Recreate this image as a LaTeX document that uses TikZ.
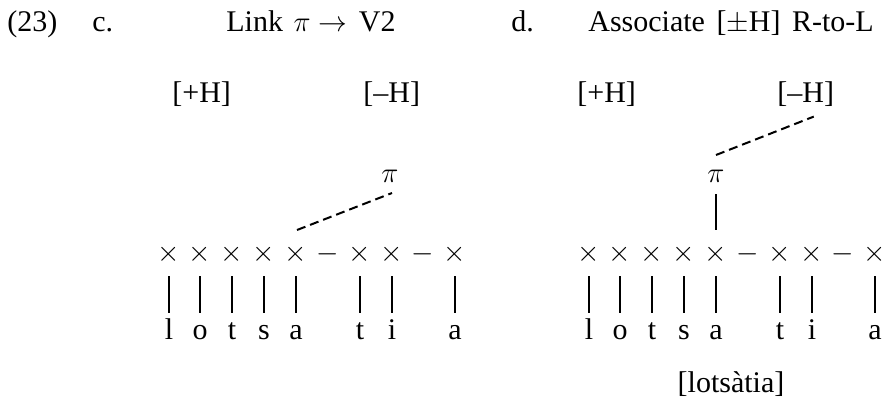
\documentclass[tikz,border=0pt]{standalone}
\usepackage{fontspec}
\setmainfont{Liberation Serif}
\usetikzlibrary{calc}
\begin{document}
\begin{tikzpicture}[x=0.5pt,y=-0.5pt,
  txt/.style={inner sep=0pt, font=\fontsize{15}{18}\selectfont},
  ttl/.style={txt, anchor=base west},
  xmark/.style={txt, anchor=center},
  seg/.style={txt, anchor=base, text height=8pt, text depth=0pt},
  bar/.style={line width=0.75pt, shorten <=11pt, shorten >=5pt},
  dashline/.style={line width=1pt, dash pattern=on 4.5pt off 2.5pt}
]
\useasboundingbox (0,0) rectangle (882,402);

% titles
\node[ttl] (num) at (7,31) {(23)};
\node[ttl] (clab) at (92,31) {c.};
\node[ttl] (ctitle) at (226,31) {Link\hspace{1.5pt} $\pi\to$\hspace{2pt} V2};
\node[ttl] (dlab) at (511,31) {d.};
\node[ttl] (dtitle) at (588,31) {Associate\hspace{2pt} [$\pm$H]\hspace{2pt} R-to-L};

% tone features
\node[ttl] (cpH) at (172,102) {[+H]};
\node[ttl] (cmH) at (363,102) {[–H]};
\node[ttl] (dpH) at (577,102) {[+H]};
\node[ttl] (dmH) at (777,102) {[–H]};

% pi nodes
\node[xmark] (cpi) at (390,176) {$\pi$};
\node[xmark] (dpi) at (716,176) {$\pi$};

\foreach \p/\o in {c/0,d/420}{
  \foreach \i/\x/\s in {1/169/\times,2/200/\times,3/232/\times,4/264/\times,5/296/\times,6/328/-,7/360/\times,8/392/\times,9/423/-,10/455/\times}{
    \node[xmark] (\p x\i) at (\x+\o,254) {$\s$};
  }
  \foreach \i/\x/\ltr in {1/169/l,2/200/o,3/232/t,4/264/s,5/296/a,7/360/t,8/392/i,10/455/a}{
    \node[seg] (\p l\i) at (\x+\o,339) {\ltr};
    \draw[bar] (\p x\i.center) -- (\p l\i.north);
  }
}

% association lines
\draw[dashline] ($(cx5.center)+(1,-24)$) -- ($(cpi.center)+(2,17)$);
\draw[dashline] ($(dpi.center)+(0,-21)$) -- ($(dmH.center)+(8,23)$);
\draw[line width=0.75pt, shorten <=9pt, shorten >=12pt] (dpi.center) -- (dx5.center);

% surface form
\node[txt, anchor=base] (gloss) at (731,392) {[lotsàtia]};
\end{tikzpicture}
\end{document}
